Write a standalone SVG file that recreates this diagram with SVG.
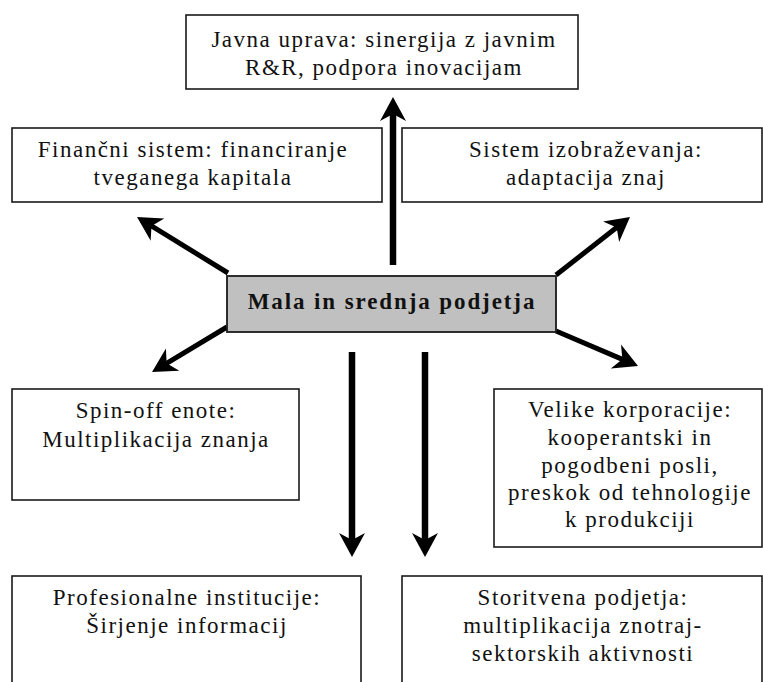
<svg xmlns="http://www.w3.org/2000/svg" width="763" height="682" viewBox="0 0 763 682">
<style>
  .box { fill: #ffffff; stroke: #1a1a1a; stroke-width: 1.6; }
  .center { fill: #c0c0c0; stroke: #1a1a1a; stroke-width: 1.8; }
  .t { font-family: "Liberation Serif", "Times New Roman", serif; font-size: 23px; letter-spacing: 1.5px; fill: #111; text-anchor: middle; }
  .tb { font-family: "Liberation Serif", "Times New Roman", serif; font-size: 23px; font-weight: bold; letter-spacing: 1.9px; fill: #111; text-anchor: middle; }
  .arrow { stroke: #000; fill: none; stroke-linecap: butt; marker-end: url(#head); }
  .v { stroke-width: 6.5; }
  .d { stroke-width: 5; }
</style>
<defs>
  <marker id="head" markerUnits="userSpaceOnUse" markerWidth="40" markerHeight="40" refX="0" refY="0" orient="auto" overflow="visible">
    <path d="M15,0 L-9,-13 L-2,0 L-9,13 Z" fill="#000"/>
  </marker>
</defs>
<rect width="763" height="682" fill="#ffffff"/>

<g id="connectors">
  <line class="arrow v" x1="393" y1="265" x2="393" y2="112"/>
  <line class="arrow d" x1="228" y1="273" x2="149.8" y2="224.9"/>
  <line class="arrow d" x1="556" y1="275" x2="618.2" y2="226.3"/>
  <line class="arrow d" x1="227" y1="327" x2="164.9" y2="364.3"/>
  <line class="arrow d" x1="556" y1="331" x2="624.2" y2="360.1"/>
  <line class="arrow v" x1="352" y1="352" x2="352" y2="542"/>
  <line class="arrow v" x1="425" y1="352" x2="425" y2="542"/>
</g>

<g id="javna-uprava">
  <rect class="box" x="186" y="15" width="392" height="74"/>
  <text class="t" x="384" y="47">Javna uprava: sinergija z javnim</text>
  <text class="t" x="384" y="75">R&amp;R, podpora inovacijam</text>
</g>

<g id="financni-sistem">
  <rect class="box" x="12" y="128" width="370" height="74"/>
  <text class="t" x="193" y="157">Finančni sistem: financiranje</text>
  <text class="t" x="193" y="185">tveganega kapitala</text>
</g>

<g id="sistem-izobrazevanja">
  <rect class="box" x="402" y="128" width="360" height="74"/>
  <text class="t" x="586" y="157">Sistem izobraževanja:</text>
  <text class="t" x="586" y="185">adaptacija znaj</text>
</g>

<g id="msp">
  <rect class="center" x="227" y="276" width="329" height="56"/>
  <text class="tb" x="392" y="309">Mala in srednja podjetja</text>
</g>

<g id="spin-off">
  <rect class="box" x="12" y="389" width="287" height="111"/>
  <text class="t" x="156" y="418">Spin-off enote:</text>
  <text class="t" x="156" y="447">Multiplikacija znanja</text>
</g>

<g id="velike-korporacije">
  <rect class="box" x="494" y="389" width="268" height="158"/>
  <text class="t" x="630" y="417">Velike korporacije:</text>
  <text class="t" x="630" y="445">kooperantski in</text>
  <text class="t" x="630" y="473">pogodbeni posli,</text>
  <text class="t" x="630" y="500">preskok od tehnologije</text>
  <text class="t" x="630" y="527">k produkciji</text>
</g>

<g id="profesionalne-institucije">
  <rect class="box" x="12" y="576" width="349" height="120"/>
  <text class="t" x="187" y="605">Profesionalne institucije:</text>
  <text class="t" x="187" y="633">Širjenje informacij</text>
</g>

<g id="storitvena-podjetja">
  <rect class="box" x="402" y="576" width="360" height="120"/>
  <text class="t" x="583" y="605">Storitvena podjetja:</text>
  <text class="t" x="583" y="633">multiplikacija znotraj-</text>
  <text class="t" x="583" y="661">sektorskih aktivnosti</text>
</g>
</svg>
